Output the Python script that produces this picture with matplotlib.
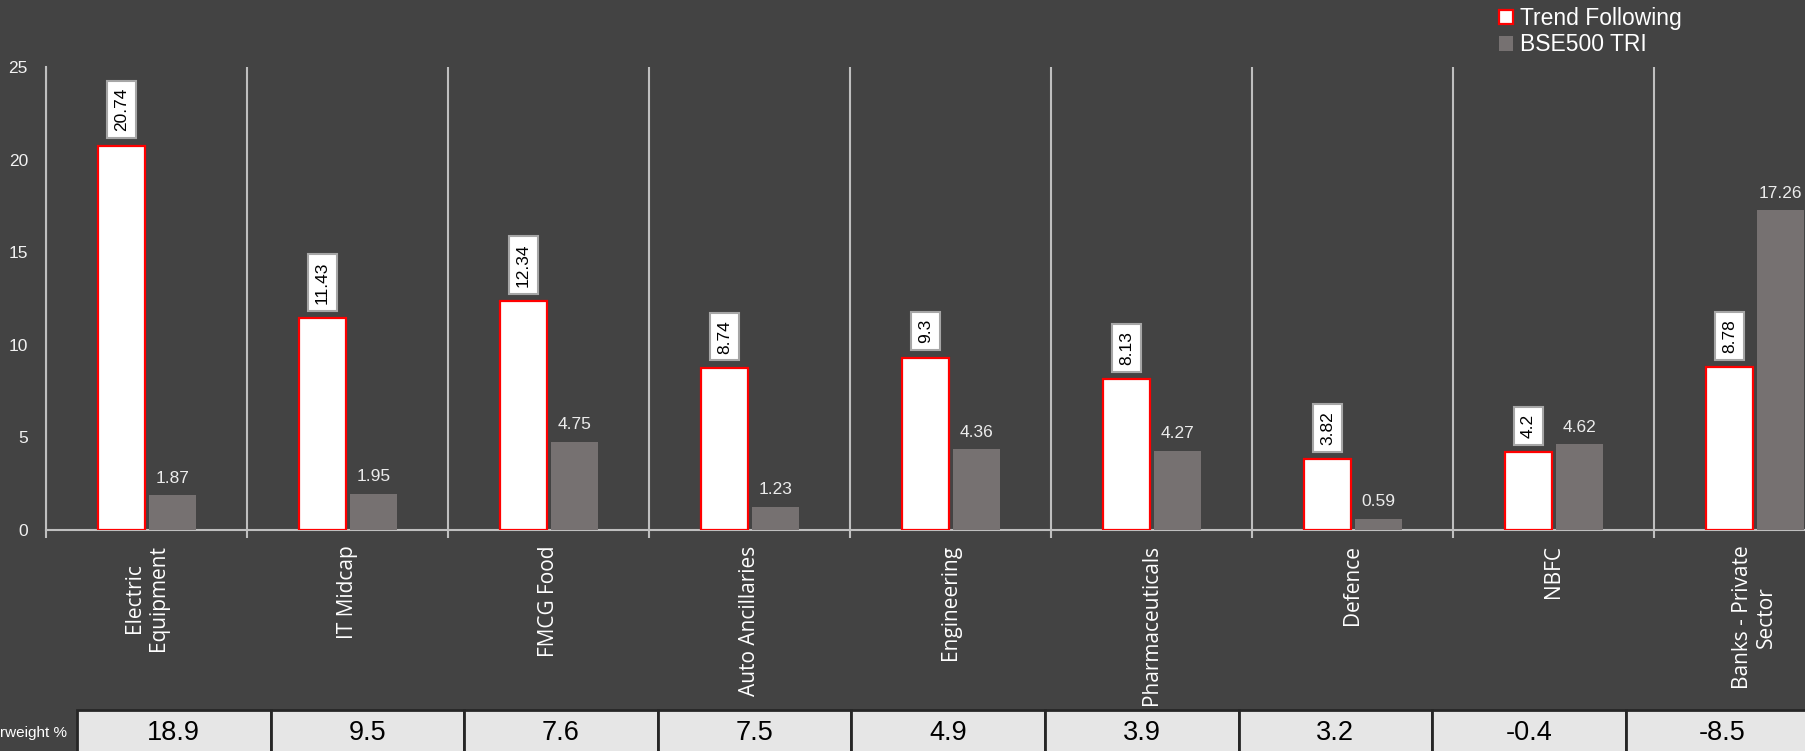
import numpy as np
import matplotlib
matplotlib.use("Agg")
import matplotlib.pyplot as plt
from matplotlib.patches import Patch

# sector weights (%)
sectors = ["Electric\nEquipment", "IT Midcap", "FMCG Food", "Auto Ancillaries",
           "Engineering", "Pharmaceuticals", "Defence", "NBFC",
           "Banks - Private\nSector"]
trend_following = [20.74, 11.43, 12.34, 8.74, 9.3, 8.13, 3.82, 4.2, 8.78]
bse500_tri = [1.87, 1.95, 4.75, 1.23, 4.36, 4.27, 0.59, 4.62, 17.26]
overweight = [18.9, 9.5, 7.6, 7.5, 4.9, 3.9, 3.2, -0.4, -8.5]
y_ticks = [0, 5, 10, 15, 20, 25]

BG = "#434343"
GRID = "#bfbfbf"
BSE_GREY = "#767171"
TXT_FONT = ["Liberation Sans", "DejaVu Sans"]

W, H = 1806, 751
fig = plt.figure(figsize=(W / 100, H / 100), dpi=100, facecolor=BG)
# plot area runs a little past the right edge of the figure
ax = fig.add_axes([46 / W, (H - 530) / H, 1809 / W, 463 / H])
ax.set_facecolor(BG)

x = np.arange(len(sectors))
bw = 0.235

ax.bar(x - 0.125, trend_following, bw, facecolor="white", edgecolor="red",
       linewidth=1.6, zorder=3)
ax.bar(x + 0.13, bse500_tri, bw, color=BSE_GREY, zorder=3)

for xi, v in zip(x, trend_following):
    ax.annotate(f"{v:g}", (xi - 0.125, v), xytext=(0, 10.5),
                textcoords="offset points", rotation=90, ha="center",
                va="bottom", fontsize=12.5, family=TXT_FONT, color="black",
                bbox=dict(boxstyle="square,pad=0.4", fc="white",
                          ec="#a6a6a6", lw=1.5), zorder=4)

for xi, v in zip(x, bse500_tri):
    ax.annotate(f"{v:g}", (xi + 0.13, v), xytext=(0, 7),
                textcoords="offset points", ha="center", va="bottom",
                fontsize=12.5, family=TXT_FONT, color="#ececec", zorder=4)

ax.set_xlim(-0.5, len(sectors) - 0.5)
ax.set_ylim(0, 25)

# category separators
ax.set_xticks(np.arange(-0.5, len(sectors), 1), minor=True)
ax.grid(which="minor", axis="x", color=GRID, linewidth=1.5)
ax.tick_params(axis="x", which="minor", length=6, width=1.5, color=GRID)

ax.set_xticks(x)
ax.set_xticklabels(sectors, rotation=90, fontsize=15, family=["Open Sans", "DejaVu Sans"],
                   color="white", multialignment="center", linespacing=1.15)
ax.tick_params(axis="x", which="major", length=0, pad=11)

ax.set_yticks(y_ticks)
ax.set_yticklabels([str(t) for t in y_ticks], fontsize=12.5, family=TXT_FONT,
                   color="#f2f2f2")
ax.tick_params(axis="y", length=0, pad=13)

for s in ("top", "right"):
    ax.spines[s].set_visible(False)
for s in ("left", "bottom"):
    ax.spines[s].set_color(GRID)
    ax.spines[s].set_linewidth(1.5)

# overweight row under the chart
px_w, px_h = 1809, 463
tbl = ax.table(cellText=[[f"{v:g}" for v in overweight]], cellLoc="center",
               bbox=[(77 - 46) / px_w, (530 - 757) / px_h,
                     193.6 * 9 / px_w, 47 / px_h])
tbl.auto_set_font_size(False)
tbl.set_zorder(6)
for cell in tbl.get_celld().values():
    cell.set_facecolor("#e6e6e6")
    cell.set_edgecolor("#262626")
    cell.set_linewidth(2)
    cell.get_text().set_fontsize(19.5)
    cell.get_text().set_fontfamily(TXT_FONT)
    cell.get_text().set_color("black")

fig.text(67 / W, 1 - 733 / H, "Overweight %", ha="right", va="center",
         fontsize=11, family=TXT_FONT, color="white")

handles = [Patch(facecolor="white", edgecolor="red", linewidth=1.6),
           Patch(facecolor=BSE_GREY)]
fig.legend(handles, ["Trend Following", "BSE500 TRI"], loc="upper left",
           bbox_to_anchor=(1499 / W, 1 - 7 / H), frameon=False,
           prop={"family": TXT_FONT, "size": 16.5}, labelcolor="white",
           handlelength=0.62, handleheight=0.62, handletextpad=0.3,
           labelspacing=0.15, borderpad=0, borderaxespad=0)

fig.savefig("out.png", dpi=100, facecolor=BG)
